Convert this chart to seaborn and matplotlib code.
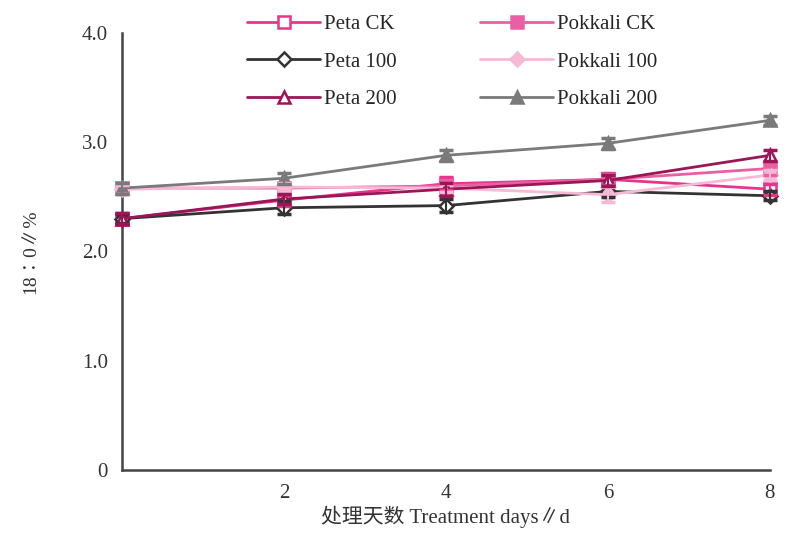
import matplotlib
matplotlib.use("Agg")
import matplotlib.pyplot as plt
import seaborn as sns
import pandas as pd

days = [0, 2, 4, 6, 8]
series_names = ["Peta CK", "Pokkali CK", "Peta 100", "Pokkali 100", "Peta 200", "Pokkali 200"]
peta_ck = [2.30, 2.47, 2.62, 2.66, 2.57]
pokkali_ck = [2.58, 2.58, 2.60, 2.66, 2.76]
peta_100 = [2.30, 2.40, 2.42, 2.55, 2.51]
pokkali_100 = [2.57, 2.59, 2.58, 2.52, 2.70]
peta_200 = [2.30, 2.48, 2.57, 2.65, 2.88]
pokkali_200 = [2.58, 2.67, 2.88, 2.99, 3.20]
err_peta_ck = [0.05, 0.05, 0.06, 0.06, 0.05]
err_pokkali_ck = [0.05, 0.05, 0.05, 0.05, 0.06]
err_peta_100 = [0.04, 0.06, 0.06, 0.05, 0.04]
err_pokkali_100 = [0.04, 0.04, 0.04, 0.07, 0.05]
err_peta_200 = [0.05, 0.05, 0.06, 0.05, 0.05]
err_pokkali_200 = [0.05, 0.05, 0.05, 0.05, 0.04]

y_ticks = [0, 1.0, 2.0, 3.0, 4.0]
y_tick_labels = ["0", "1.0", "2.0", "3.0", "4.0"]
x_ticks = [2, 4, 6, 8]
x_tick_labels = ["2", "4", "6", "8"]

values = [peta_ck, pokkali_ck, peta_100, pokkali_100, peta_200, pokkali_200]
errors = [err_peta_ck, err_pokkali_ck, err_peta_100, err_pokkali_100, err_peta_200, err_pokkali_200]

styles = {
    "Peta CK": dict(color="#e8348c", marker="s", mfc="white"),
    "Pokkali CK": dict(color="#ea5fa3", marker="s", mfc="#ea5fa3"),
    "Peta 100": dict(color="#333333", marker="D", mfc="white"),
    "Pokkali 100": dict(color="#f6b9d6", marker="D", mfc="#f6b9d6"),
    "Peta 200": dict(color="#9a1656", marker="^", mfc="white"),
    "Pokkali 200": dict(color="#7a7a7a", marker="^", mfc="#7a7a7a"),
}

rows = []
for name, vals, errs in zip(series_names, values, errors):
    for d, v, e in zip(days, vals, errs):
        rows.append({"day": d, "value": v, "err": e, "series": name})
df = pd.DataFrame(rows)

sns.set_style("white")
plt.rcParams["font.family"] = ["Liberation Serif", "Noto Sans CJK SC", "DejaVu Sans"]

fig = plt.figure(figsize=(7.97, 5.37), dpi=100)
ax = fig.add_axes([0.153, 0.125, 0.813, 0.8135])

order = ["Peta CK", "Peta 100", "Peta 200", "Pokkali CK", "Pokkali 100", "Pokkali 200"]
for name in series_names:
    sub = df[df["series"] == name]
    st = styles[name]
    sns.lineplot(data=sub, x="day", y="value", ax=ax, color=st["color"],
                 marker=st["marker"], markersize=9 if st["marker"] != "D" else 7,
                 markerfacecolor=st["mfc"], markeredgecolor=st["color"], markeredgewidth=1.8,
                 linewidth=2, label=name, zorder=3, clip_on=False)
    eb = ax.errorbar(sub["day"], sub["value"], yerr=sub["err"], fmt="none",
                     ecolor=st["color"], elinewidth=1.5, capsize=5, capthick=2.5, zorder=4)
    for art in eb.lines[1] + eb.lines[2]:
        art.set_clip_on(False)
    for art in eb.lines[2]:
        art.set_clip_on(False)

handles, labels = ax.get_legend_handles_labels()
hmap = dict(zip(labels, handles))
leg = ax.legend([hmap[n] for n in order], order, loc="upper center",
                bbox_to_anchor=(0.51, 1.085), ncol=2, frameon=False,
                handlelength=3.5, fontsize=15, columnspacing=4.0,
                labelspacing=0.85, handletextpad=0.2)

ax.set_xlim(0, 8)
ax.set_ylim(0, 4.0)
ax.set_yticks(y_ticks)
ax.set_yticklabels(y_tick_labels)
ax.set_xticks(x_ticks)
ax.set_xticklabels(x_tick_labels)
ax.tick_params(axis="both", direction="in", length=5, width=1.5, labelsize=15,
               colors="#333333", pad=10)
for s in ["top", "right"]:
    ax.spines[s].set_visible(False)
for s in ["left", "bottom"]:
    ax.spines[s].set_linewidth(1.8)
    ax.spines[s].set_color("#444444")

ax.set_xlabel("处理天数 Treatment days∥d", fontsize=15, color="#333333", labelpad=2)
ax.set_ylabel("18∶0∥%", fontsize=14, color="#333333", labelpad=30)

fig.savefig("out.png", dpi=100)
